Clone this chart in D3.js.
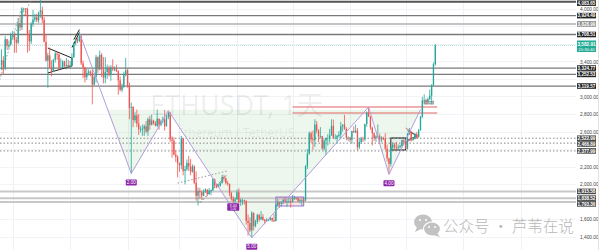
<!DOCTYPE html>
<html>
<head>
<meta charset="utf-8">
<script src="https://cdn.jsdelivr.net/npm/d3@7"></script>
<style>
  html, body { margin: 0; padding: 0; background: #fff; overflow: hidden; }
  svg { display: block; font-family: "Liberation Sans", Arial, sans-serif; }
</style>
</head>
<body>
<svg id="chart" width="600" height="250"></svg>
<script>
// ETHUSDT daily candles, 2024-11-25 .. 2025-07-17
const firstDay = "2024-11-25";
const lastPrice = 3582.91;
const countdown = "20:30:40";

const opens = [
  3360,3415,3325,3655,3580,3590,
  3705,3710,3645,3615,3840,3790,3995,4005,4000,3710,3630,3830,3880,3905,3870,3960,3985,3880,3625,3410,3470,3330,3280,3420,3490,3480,3330,3330,3400,3350,3360,
  3330,3355,3450,3610,3655,3635,3690,3380,3330,3220,3270,3285,3265,3135,3225,3450,3310,3475,3310,3215,3280,3330,3245,3335,3310,3315,3290,3185,3075,3115,3245,
  3300,3125,2870,2880,2730,2785,2690,2625,2630,2630,2660,2600,2740,2675,2725,2695,2665,2745,2675,2715,2740,2660,2765,2815,2510,2495,2335,2310,
  2235,2215,2520,2150,2170,2240,2200,2140,2200,2015,1865,1920,1910,1865,1910,1935,1885,1925,1930,2055,1980,1965,1980,2010,2080,2065,2010,2000,1895,1830,1805,
  1825,1905,1795,1815,1815,1805,1580,1555,1470,1670,1520,1570,1645,1595,1625,1590,1575,1585,1590,1615,1585,1575,1755,1795,1770,1785,1820,1795,1800,1800,
  1795,1840,1840,1835,1805,1815,1815,1810,2205,2345,2580,2510,2500,2680,2610,2545,2545,2405,2495,2525,2525,2555,2665,2530,2530,2550,2565,2660,2680,2630,2530,
  2530,2505,2605,2590,2610,2420,2480,2520,2510,2685,2815,2770,2645,2580,2525,2545,2545,2510,2525,2520,2405,2295,2230,2415,2450,2420,2415,2420,2435,2500,
  2485,2405,2570,2595,2510,2515,2570,2540,2615,2770,2955,2960,2945,2970,3010,3130,3370
];
const highs = [
  3540,3460,3690,3660,3640,3730,
  3750,3720,3680,3890,3935,4020,4015,4010,4010,3760,3850,3990,3945,3945,3970,4107,4030,3910,3710,3500,3560,3415,3430,3515,3510,3490,3435,3415,3410,3440,3420,
  3405,3495,3620,3665,3670,3745,3700,3410,3340,3320,3310,3300,3330,3260,3475,3460,3525,3495,3450,3450,3365,3350,3360,3425,3345,3365,3300,3230,3150,3285,3440,
  3320,3160,2930,2890,2820,2850,2800,2660,2680,2680,2720,2760,2780,2795,2735,2720,2850,2750,2735,2770,2845,2790,2830,2820,2545,2535,2385,2330,
  2245,2550,2525,2210,2280,2320,2285,2225,2215,2145,1960,1955,1925,1940,1950,1940,1955,1935,2070,2060,2000,2005,2020,2105,2105,2075,2035,2005,1910,1860,1845,
  1935,1950,1835,1830,1820,1815,1650,1620,1690,1675,1590,1660,1660,1690,1655,1600,1610,1600,1620,1615,1660,1780,1830,1795,1805,1830,1850,1830,1840,1830,
  1875,1865,1845,1845,1830,1830,1850,2215,2400,2600,2600,2610,2740,2720,2625,2650,2550,2520,2530,2570,2630,2740,2735,2570,2560,2605,2710,2680,2790,2650,2545,
  2540,2610,2660,2680,2640,2530,2540,2540,2690,2830,2880,2780,2655,2590,2560,2680,2575,2545,2540,2580,2450,2300,2430,2475,2470,2480,2450,2450,2510,2510,
  2490,2585,2640,2605,2530,2585,2595,2630,2780,2995,3025,2975,2990,3080,3140,3390,3600
];
const lows = [
  3300,3250,3300,3545,3550,3590,
  3660,3500,3500,3600,3750,3760,3960,3925,3500,3520,3600,3800,3850,3850,3840,3900,3840,3620,3400,3100,3320,3230,3280,3390,3420,3300,3315,3325,3330,3310,3320,
  3320,3345,3440,3585,3610,3620,3360,3210,3160,3190,3240,3230,2910,3130,3160,3270,3300,3220,3150,3150,3200,3230,3180,3290,3290,3280,3020,3060,3050,3100,3230,
  3100,2740,2120,2650,2700,2650,2560,2590,2550,2550,2580,2550,2620,2670,2680,2660,2650,2620,2660,2690,2610,2655,2740,2480,2300,2330,2250,2075,
  2140,2170,2100,1995,2150,2150,2100,2130,2000,1810,1755,1830,1820,1860,1900,1860,1880,1870,1920,1955,1950,1960,1970,2005,2030,1995,1980,1860,1810,1785,1765,
  1820,1780,1750,1760,1765,1535,1410,1450,1385,1470,1505,1545,1570,1590,1580,1540,1565,1575,1580,1565,1565,1575,1750,1725,1740,1770,1780,1740,1780,1730,
  1790,1820,1820,1800,1780,1750,1790,1805,2170,2335,2470,2390,2425,2580,2480,2520,2390,2380,2330,2440,2480,2550,2520,2510,2460,2530,2510,2600,2620,2500,2490,
  2475,2460,2585,2580,2385,2400,2460,2480,2490,2655,2765,2620,2440,2495,2480,2530,2460,2480,2500,2390,2260,2111,2200,2390,2380,2400,2390,2410,2425,2450,
  2400,2395,2560,2485,2495,2510,2520,2530,2610,2750,2920,2910,2920,2960,2910,3120,3350
];
const closes = [
  3415,3325,3655,3580,3590,3705,
  3710,3645,3615,3840,3790,3995,4005,4000,3710,3630,3830,3880,3905,3870,3960,3985,3880,3625,3410,3470,3330,3280,3420,3490,3480,3330,3330,3400,3350,3360,3330,
  3355,3450,3610,3655,3635,3690,3380,3330,3220,3270,3285,3265,3135,3225,3450,3310,3475,3310,3215,3280,3330,3245,3335,3310,3315,3290,3185,3075,3115,3245,3300,
  3125,2870,2880,2730,2785,2690,2625,2630,2630,2660,2600,2740,2675,2725,2695,2665,2745,2675,2715,2740,2660,2765,2815,2510,2495,2335,2310,2235,
  2215,2520,2150,2170,2240,2200,2140,2200,2015,1865,1920,1910,1865,1910,1935,1885,1925,1930,2055,1980,1965,1980,2010,2080,2065,2010,2000,1895,1830,1805,1825,
  1905,1795,1815,1815,1805,1580,1555,1470,1670,1520,1570,1645,1595,1625,1590,1575,1585,1590,1615,1585,1575,1755,1795,1770,1785,1820,1795,1800,1800,1795,
  1840,1840,1835,1805,1815,1815,1810,2205,2345,2580,2510,2500,2680,2610,2545,2545,2405,2495,2525,2525,2555,2665,2530,2530,2550,2565,2660,2680,2630,2530,2530,
  2505,2605,2590,2610,2420,2480,2520,2510,2685,2815,2770,2645,2580,2525,2545,2545,2510,2525,2520,2405,2295,2230,2415,2450,2420,2415,2420,2435,2500,2485,
  2405,2570,2595,2510,2515,2570,2540,2615,2770,2955,2960,2945,2970,3010,3130,3370,3582.91
];

// Price axis ticks and marked levels
const tickPrices = [1400,1600,1800,2000,2200,2400,2600,2800,3000,3200,3400,3600,3800,4000];
const solidLevels = [4083.65, 3924.49, 3828.99, 3708.51, 3324.77, 3252.53, 3119.57];
const dottedLevels = [2522.99, 2466.89, 2377.99];
const supportLevels = [1915.58, 1838.52, 1793.36];

// Inverse head & shoulders zigzag
const zigDates  = ["2025-01-06","2025-02-03","2025-02-23","2025-04-09","2025-06-11","2025-06-22","2025-07-09"];
const zigPrices = [3730, 2120, 2840, 1385, 2880, 2111, 2850];
const fillDates  = ["2025-01-21","2025-02-03","2025-02-23","2025-04-09","2025-06-11","2025-06-22","2025-07-09"];
const fillPrices = [2850, 2120, 2840, 1385, 2880, 2111, 2850];
const zigLabels = [
  {date: "2025-02-03", price: 2120, text: "2.00"},
  {date: "2025-04-09", price: 1385, text: "5.00"},
  {date: "2025-06-22", price: 2111, text: "4.00"}
];

// Resistance band after the head
const bandPrices = [2880, 2811];
const bandDates = ["2025-05-01", "2025-07-18"];

const svg = d3.select("#chart");
const plotRight = 576;
const parse = d3.utcParse("%Y-%m-%d");

const startDate = parse(firstDay);
const days = d3.utcDay.range(startDate, d3.utcDay.offset(startDate, closes.length));

const x = d3.scaleUtc()
  .domain([parse("2024-11-25"), parse("2025-09-01")])
  .range([1.5, 520.6]);
const y = d3.scaleLinear().domain([1400, 4000]).range([236.5, 9]);

svg.append("rect").attr("width", 600).attr("height", 250).attr("fill", "#ffffff");

svg.append("defs").append("clipPath").attr("id", "plot")
  .append("rect").attr("x", 0).attr("y", 0).attr("width", plotRight).attr("height", 250);

const plot = svg.append("g").attr("clip-path", "url(#plot)");

// grid
plot.append("g").selectAll("line")
  .data(d3.utcMonth.range(parse("2024-12-01"), parse("2025-10-01")))
  .join("line")
  .attr("x1", d => Math.round(x(d)) + 0.5).attr("x2", d => Math.round(x(d)) + 0.5)
  .attr("y1", 0).attr("y2", 250)
  .attr("stroke", "#eef1f6").attr("stroke-width", 1);
plot.append("g").selectAll("line")
  .data(tickPrices)
  .join("line")
  .attr("x1", 0).attr("x2", plotRight)
  .attr("y1", d => Math.round(y(d)) + 0.5).attr("y2", d => Math.round(y(d)) + 0.5)
  .attr("stroke", "#f1f3f7").attr("stroke-width", 1);

// pattern fill
const pt = (dates, prices) => dates.map((d, i) => [x(parse(d)), y(prices[i])]);
plot.append("path")
  .attr("d", d3.line()(pt(fillDates, fillPrices)) + "Z")
  .attr("fill", "rgba(76,175,80,0.10)")
  .attr("stroke", "none");

// symbol watermark
plot.append("text")
  .attr("x", 150).attr("y", 115)
  .attr("font-family", "'Noto Sans', 'Noto Sans CJK SC', sans-serif")
  .attr("font-size", 27)
  .attr("fill", "rgba(0,0,0,0.07)")
  .text("ETHUSDT, 1天");
plot.append("text")
  .attr("x", 177).attr("y", 137)
  .attr("font-family", "'Noto Sans', sans-serif")
  .attr("font-size", 12)
  .attr("fill", "rgba(0,0,0,0.07)")
  .text("Ethereum / TetherUS");

// horizontal levels
plot.append("g").selectAll("line")
  .data(solidLevels)
  .join("line")
  .attr("x1", 0).attr("x2", plotRight)
  .attr("y1", d => y(d)).attr("y2", d => y(d))
  .attr("stroke", (d, i) => i === 0 ? "#555" : (i === 2 ? "#c4c4c4" : "#7a7a7a"))
  .attr("stroke-width", (d, i) => i === 0 ? 2 : (i === 2 ? 2 : 1.3));
plot.append("g").selectAll("line")
  .data(dottedLevels)
  .join("line")
  .attr("x1", 0).attr("x2", plotRight)
  .attr("y1", d => y(d)).attr("y2", d => y(d))
  .attr("stroke", "#8a8a8a").attr("stroke-width", 1)
  .attr("stroke-dasharray", "1.5,2");
plot.append("g").selectAll("line")
  .data(supportLevels)
  .join("line")
  .attr("x1", 0).attr("x2", plotRight)
  .attr("y1", d => y(d)).attr("y2", d => y(d))
  .attr("stroke", "#c8c8c8").attr("stroke-width", 2);

// current price line
plot.append("line")
  .attr("x1", 0).attr("x2", plotRight)
  .attr("y1", y(lastPrice)).attr("y2", y(lastPrice))
  .attr("stroke", "#22ab94").attr("stroke-opacity", 0.35)
  .attr("stroke-dasharray", "1,1");

// resistance band
plot.append("g").selectAll("line")
  .data(bandPrices)
  .join("line")
  .attr("x1", x(parse(bandDates[0]))).attr("x2", x(parse(bandDates[1])))
  .attr("y1", d => y(d)).attr("y2", d => y(d))
  .attr("stroke", "rgba(229,115,115,0.75)").attr("stroke-width", 1.6);

// consolidation boxes
const box = (d0, d1, p0, p1, stroke, fill) => plot.append("rect")
  .attr("x", x(parse(d0))).attr("width", x(parse(d1)) - x(parse(d0)))
  .attr("y", y(p0)).attr("height", y(p1) - y(p0))
  .attr("fill", fill).attr("stroke", stroke).attr("stroke-width", 1);
box("2025-04-22", "2025-05-07", 1851, 1749, "#9575cd", "rgba(242,54,69,0.12)");
box("2025-06-23", "2025-07-01", 2526, 2389, "#222", "rgba(0,0,0,0.03)");
box("2025-07-11", "2025-07-16", 2945, 2915, "#9e9e9e", "rgba(158,158,158,0.6)");

// trend drawings
const seg = (dates, prices, stroke, width, dash) => plot.append("path")
  .attr("d", d3.line()(pt(dates, prices)))
  .attr("fill", "none").attr("stroke", stroke).attr("stroke-width", width)
  .attr("stroke-dasharray", dash || null);
seg(["2024-11-24","2024-12-06"], [3190, 4023], "#9a9a9a", 1, "1.5,2");
seg(["2024-11-28","2024-12-12"], [3531, 4150], "#9a9a9a", 1, "1.5,2");
seg(["2024-12-20","2025-01-02"], [3554, 3440], "#222", 1);
seg(["2024-12-20","2025-01-02"], [3269, 3349], "#222", 1);
seg(["2025-01-02","2025-01-02"], [3440, 3349], "#222", 1);
seg(["2025-01-02","2025-01-06"], [3560, 3730], "#222", 1);
seg(["2025-01-03","2025-01-06"], [3650, 3765], "#222", 1);
seg(["2025-03-12","2025-03-27"], [1785, 2115], "#777", 1, "2,2");
seg(["2025-02-28","2025-03-27"], [2010, 2150], "#999", 1, "1.5,2");
seg(["2025-07-01","2025-07-08","2025-07-01"], [2640, 2540, 2480], "#e57373", 1);
seg(["2025-07-02","2025-07-07","2025-07-02"], [2610, 2550, 2500], "#333", 0.8);

// candles
const step = x(days[1]) - x(days[0]);
const bodyW = step * 0.72;
const candles = plot.append("g").selectAll("g")
  .data(days.map((d, i) => ({d, o: opens[i], h: highs[i], l: lows[i], c: closes[i]})))
  .join("g")
  .attr("fill", v => v.c >= v.o ? "#26a69a" : "#ef5350")
  .attr("stroke", v => v.c >= v.o ? "#26a69a" : "#ef5350");
candles.append("line")
  .attr("x1", v => x(v.d)).attr("x2", v => x(v.d))
  .attr("y1", v => y(v.h)).attr("y2", v => y(v.l))
  .attr("stroke-width", 0.8);
candles.append("rect")
  .attr("stroke", "none")
  .attr("x", v => x(v.d) - bodyW / 2).attr("width", bodyW)
  .attr("y", v => y(Math.max(v.o, v.c)))
  .attr("height", v => Math.max(0.7, Math.abs(y(v.o) - y(v.c))));

// zigzag outline and labels
seg(zigDates, zigPrices, "#b39ddb", 1);
const lab = plot.append("g").selectAll("g").data(zigLabels).join("g")
  .attr("transform", v => `translate(${x(parse(v.date))},${y(v.price) + 6})`);
lab.append("rect").attr("x", -5.5).attr("y", 0).attr("width", 11).attr("height", 6)
  .attr("rx", 0.8).attr("fill", "#8e24aa");
lab.append("text").attr("x", 0).attr("y", 4.6).attr("text-anchor", "middle")
  .attr("font-size", 4.6).attr("fill", "#fff").text(v => v.text);
const lab2 = plot.append("g").attr("transform", `translate(${x(parse("2025-03-30"))},${y(1785) + 0.5})`);
lab2.append("rect").attr("x", -6).attr("y", 0).attr("width", 12).attr("height", 7.5)
  .attr("rx", 0.8).attr("fill", "#8e24aa");
lab2.append("text").attr("x", 0).attr("y", 3.6).attr("text-anchor", "middle")
  .attr("font-size", 3.8).attr("fill", "#fff").text("3.00");
lab2.append("text").attr("x", 0).attr("y", 6.9).attr("text-anchor", "middle")
  .attr("font-size", 3).attr("fill", "#fff").text("1.00");

// WeChat account watermark
const wm = svg.append("g").attr("fill", "#c2c2c2");
wm.append("ellipse").attr("cx", 423).attr("cy", 222).attr("rx", 9).attr("ry", 7.5);
wm.append("path").attr("d", "M417,227 L415,232 L421,229 Z");
wm.append("ellipse").attr("cx", 432).attr("cy", 229).attr("rx", 8.5).attr("ry", 7).attr("stroke", "#fff").attr("stroke-width", 1.2);
wm.append("path").attr("d", "M437,233 L440,237 L433,235 Z");
[[420,220],[426,220],[429,227],[435,227]].forEach(([cx, cy]) =>
  wm.append("circle").attr("cx", cx).attr("cy", cy).attr("r", 1).attr("fill", "#fff"));
svg.append("text")
  .attr("x", 443).attr("y", 232)
  .attr("font-family", "'Noto Sans CJK SC', sans-serif")
  .attr("font-weight", 300)
  .attr("font-size", 15.5)
  .attr("fill", "#b8b8b8")
  .text("公众号 · 芦苇在说");

// price axis: tick labels that sit under a level tag are left out
const tagPrices = solidLevels.concat(dottedLevels, supportLevels, [lastPrice]);
const shownTicks = tickPrices.filter(t => tagPrices.every(p => Math.abs(y(t) - y(p)) >= 6));
const axis = svg.append("g")
  .attr("transform", `translate(580,0)`)
  .call(d3.axisRight(y).tickValues(shownTicks).tickFormat(d3.format(",.2f")).tickSize(0).tickPadding(0));
axis.select(".domain").remove();
axis.selectAll("text").attr("font-size", 4.8).attr("fill", "#444").attr("font-family", "'Liberation Sans', Arial, sans-serif");

svg.append("line").attr("x1", 598.5).attr("x2", 598.5).attr("y1", 0).attr("y2", 250)
  .attr("stroke", "#e3e3e3");

// level tags on the axis, nudged apart where their levels crowd together
const tagH = 5.6;
const tags = solidLevels.map((p, i) => ({p, fill: i === 2 ? "#8a8a8a" : "#222"}))
  .concat(dottedLevels.map(p => ({p, fill: "#4a4a4a"})), supportLevels.map(p => ({p, fill: "#4a4a4a"})))
  .map(t => ({...t, ty: y(t.p)}))
  .sort((a, b) => a.ty - b.ty);
tags.forEach((t, i) => {
  t.ty = Math.max(t.ty, tagH / 2 + 0.3);
  if (i > 0) t.ty = Math.max(t.ty, tags[i - 1].ty + tagH + 0.2);
});
const tg = svg.append("g").selectAll("g").data(tags).join("g")
  .attr("transform", t => `translate(577,${t.ty})`);
tg.append("rect").attr("x", 0).attr("y", -tagH / 2).attr("width", 19).attr("height", tagH).attr("fill", t => t.fill);
tg.append("text").attr("x", 9.5).attr("y", 1.6).attr("text-anchor", "middle")
  .attr("font-size", 4.6).attr("font-weight", "bold").attr("fill", "#fff")
  .text(t => d3.format(",.2f")(t.p));

const cur = svg.append("g").attr("transform", `translate(577,${y(lastPrice)})`);
cur.append("rect").attr("x", 0).attr("y", -5).attr("width", 19).attr("height", 11.5).attr("fill", "#22ab94");
cur.append("text").attr("x", 9.5).attr("y", 0.9).attr("text-anchor", "middle")
  .attr("font-size", 4.7).attr("font-weight", "bold").attr("fill", "#fff").text(d3.format(",.2f")(lastPrice));
cur.append("text").attr("x", 9.5).attr("y", 5.6).attr("text-anchor", "middle")
  .attr("font-size", 4.2).attr("fill", "#fff").text(countdown);
</script>
</body>
</html>
